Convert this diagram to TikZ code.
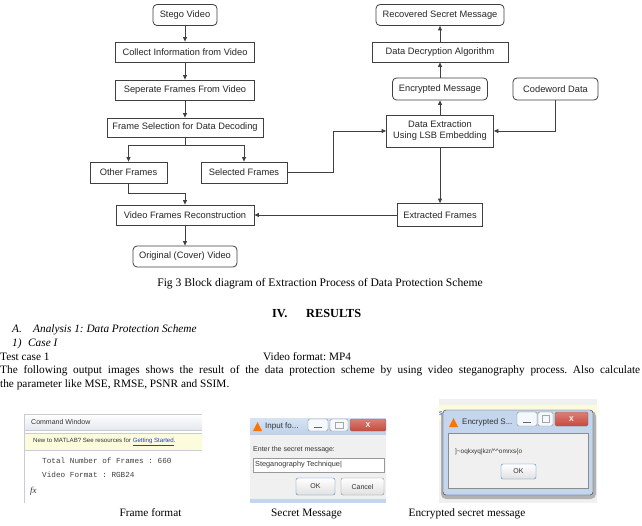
\documentclass[tikz,border=0pt]{standalone}
\usepackage{fontspec}
\setmainfont{Liberation Serif}
\setsansfont{Liberation Sans}
\setmonofont{Liberation Mono}
\usetikzlibrary{arrows.meta}
\frenchspacing
\definecolor{lineg}{HTML}{404040}
\definecolor{cwhead}{HTML}{E4E8EE}
\definecolor{cwline}{HTML}{C8CDD4}
\definecolor{cwyel}{HTML}{FCFBDC}
\definecolor{linkblue}{HTML}{2040C0}
\definecolor{titletop}{HTML}{D6E3F3}
\definecolor{titlebot}{HTML}{BFD2EA}
\definecolor{dlgbody}{HTML}{F0F0F0}
\definecolor{okblue}{HTML}{3C86C4}
\definecolor{closered}{HTML}{C9493C}
\definecolor{frameblue}{HTML}{C3D6EE}

\tikzset{
  blk/.style={draw=lineg, line width=0.8pt, text=black!85, inner sep=0pt, align=center,
    font=\sffamily\fontsize{9.3}{11}\selectfont},
  term/.style={blk, rounded corners=4pt},
  arr/.style={draw=lineg, line width=0.8pt, -{Triangle[length=4.5pt,width=4pt]}},
  body/.style={inner sep=0pt, anchor=base west, font=\fontsize{11.3}{14}\selectfont},
  shot/.style={inner sep=0pt, anchor=west, text=black!80, font=\sffamily\fontsize{7}{8}\selectfont},
  mono/.style={inner sep=0pt, anchor=west, text=black!75, font=\ttfamily\fontsize{7.7}{9}\selectfont},
  winbtn/.style={draw=black!45, fill=white!85!titlebot, rounded corners=1.5pt},
  okbtn/.style={draw=okblue, top color=white, bottom color=black!12, rounded corners=2pt},
}

\begin{document}
\begin{tikzpicture}[x=1pt,y=-1pt]
\useasboundingbox (0,0) rectangle (642,526);
\fill[white] (0,0) rectangle (642,526);
% Left column boxes
\node[term, minimum width=64pt, minimum height=21pt] (stego) at (185,15) {Stego Video};
\node[blk, minimum width=139pt, minimum height=20pt] (collect) at (185,52) {Collect Information from Video};
\node[blk, minimum width=139pt, minimum height=20pt] (separate) at (185,90) {Seperate Frames From Video};
\node[blk, minimum width=156pt, minimum height=19pt] (fsel) at (185,127.5) {Frame Selection for Data Decoding};
\node[blk, minimum width=77pt, minimum height=21pt] (other) at (128.5,172.5) {Other Frames};
\node[blk, minimum width=86pt, minimum height=21pt] (selected) at (244,172.5) {Selected Frames};
\node[blk, minimum width=138pt, minimum height=20pt] (recon) at (185,215) {Video Frames Reconstruction};
\node[term, minimum width=104pt, minimum height=21pt] (original) at (185,256.5) {Original (Cover) Video};
% Right column boxes
\node[term, minimum width=128pt, minimum height=21pt] (recovered) at (440,15) {Recovered Secret Message};
\node[blk, minimum width=136pt, minimum height=20pt] (decrypt) at (440,52) {Data Decryption Algorithm};
\node[term, minimum width=95pt, minimum height=22pt] (encmsg) at (440,89) {Encrypted Message};
\node[term, minimum width=85pt, minimum height=22pt] (codeword) at (555.5,89) {Codeword Data};
\node[blk, minimum width=107pt, minimum height=32pt] (extract) at (440,131) {Data Extraction\\Using LSB Embedding};
\node[blk, minimum width=85pt, minimum height=23pt] (extracted) at (440,215) {Extracted Frames};
% Connectors
\draw[arr] (stego) -- (collect);
\draw[arr] (collect) -- (separate);
\draw[arr] (separate) -- (fsel);
\draw[lineg, line width=0.8pt] (fsel.south) -- ++(0,8.5) coordinate (split);
\draw[arr] (split) -| (other.north);
\draw[arr] (split) -| (selected.north);
\draw[arr] (other.south) -- ++(0,10) -| (recon.north);
\draw[arr] (selected.east) -- ++(46,0) |- (extract.west);
\draw[arr] (codeword.south) |- (extract.east);
\draw[arr] (extract) -- (encmsg);
\draw[arr] (encmsg) -- (decrypt);
\draw[arr] (decrypt) -- (recovered);
\draw[arr] (extract) -- (extracted);
\draw[arr] (extracted) -- (recon);
\draw[arr] (recon) -- (original);
% Caption and text
\node[body, anchor=base, font=\fontsize{11.6}{14}\selectfont] (figcap) at (320,287) {Fig 3 Block diagram of Extraction Process of Data Protection Scheme};
\node[body, font=\bfseries\fontsize{12.3}{14}\selectfont] (secnum) at (272,317.5) {IV.};
\node[body, font=\bfseries\fontsize{12.3}{14}\selectfont] (sectitle) at (306,317.5) {RESULTS};
\node[body, font=\itshape\fontsize{11.3}{14}\selectfont] (suba) at (12,333) {A.};
\node[body, font=\itshape\fontsize{11.3}{14}\selectfont] (subatext) at (33,333) {Analysis 1: Data Protection Scheme};
\node[body, font=\itshape\fontsize{11.3}{14}\selectfont] (case) at (12,346.5) {1)};
\node[body, font=\itshape\fontsize{11.3}{14}\selectfont] (casetext) at (28,346.5) {Case I};
\node[body] (test) at (0,360) {Test case 1};
\node[body] (vformat) at (263,360) {Video format: MP4};
\node[body] (para1) at (0,373.5) {\makebox[640pt][s]{The following output images shows the result of the data protection scheme by using video steganography process. Also calculate}};
\node[body] (para2) at (0,387.5) {the parameter like MSE, RMSE, PSNR and SSIM.};
% Command Window screenshot
\fill[white] (24,414) rectangle (202,503);
\shade[top color=white, bottom color=cwhead] (24,414) rectangle (202,430);
\draw[cwline] (24,414) -- (202,414);
\draw[cwline] (24,430.5) -- (202,430.5);
\fill[cwyel] (24,433) rectangle (202,450);
\draw[cwline] (24,433) -- (202,433) (24,450) -- (202,450);
\draw[cwline] (24,414) -- (24,503);
\node[shot] (cwtitle) at (31,422) {Command Window};
\node[shot, font=\sffamily\fontsize{6.1}{7}\selectfont] (cwnew) at (33,441.5) {New to MATLAB? See resources for \textcolor{linkblue}{\underline{Getting Started}}.};
\node[mono] (cwline1) at (42,461) {Total Number of Frames : 660};
\node[mono] (cwline2) at (42,475) {Video Format : RGB24};
\node[shot, font=\rmfamily\itshape\fontsize{9}{10}\selectfont] (fx) at (30,491) {fx};
% Input dialog screenshot
\fill[dlgbody] (250,418) rectangle (386,503);
\shade[top color=titletop, bottom color=titlebot] (250,418) rectangle (386,434);
\fill[orange!90!red] (253,431) -- (257.5,422) -- (262,431) -- cycle;
\node[shot, font=\sffamily\fontsize{8}{9}\selectfont] (intitle) at (265,426) {Input fo...};
\draw[winbtn] (308,419) rectangle (328,431);
\draw[black!60, line width=1pt] (314,427.5) -- (322,427.5);
\draw[winbtn] (330,419) rectangle (348,431);
\draw[black!35] (335,422) rectangle (343,428);
\draw[draw=black!55, top color=closered!70!white, bottom color=closered, rounded corners=1.5pt] (350,419) rectangle (386,431);
\node[font=\sffamily\bfseries\fontsize{7}{8}\selectfont, text=white, inner sep=0pt] (inclose) at (368,425) {X};
\node[shot] (inlabel) at (253,450) {Enter the secret message:};
\draw[draw=black!40, fill=white] (253,458) rectangle (384,472);
\node[shot, font=\sffamily\fontsize{7.3}{8}\selectfont] (intext) at (255,465) {Steganography Technique|};
\draw[okbtn] (296,478) rectangle (335,495);
\node[shot, anchor=center] (inok) at (315.5,486.5) {OK};
\draw[draw=black!45, top color=white, bottom color=black!12, rounded corners=2pt] (341,478) rectangle (384,495);
\node[shot, anchor=center] (incancel) at (362.5,486.5) {Cancel};
\fill[frameblue] (250,499) rectangle (386,503);
% Encrypted message screenshot
\fill[black!6] (439,399) rectangle (597,503);
\fill[cwyel] (439,405) rectangle (597,421);
\node[shot, text=linkblue, font=\sffamily\fontsize{7}{8}\selectfont] (encbg) at (439,414) {s};
\fill[black!30, rounded corners=5pt] (441,411) rectangle (596,499);
\draw[draw=black!80, fill=frameblue, rounded corners=3pt] (443,410) rectangle (593,495);
\fill[orange!90!red] (449,427) -- (453.5,418) -- (458,427) -- cycle;
\node[shot, font=\sffamily\fontsize{8}{9}\selectfont] (enctitle) at (462,422) {Encrypted S...};
\draw[winbtn] (517,412) rectangle (537,426);
\draw[black!60, line width=1pt] (523,422) -- (531,422);
\draw[winbtn] (538,412) rectangle (553,426);
\draw[black!35] (542,415.5) rectangle (549,422.5);
\draw[draw=black!55, top color=closered!70!white, bottom color=closered, rounded corners=1.5pt] (555,412) rectangle (588,426);
\node[font=\sffamily\bfseries\fontsize{7}{8}\selectfont, text=white, inner sep=0pt] (encclose) at (571.5,419) {X};
\draw[draw=black!45, fill=dlgbody] (448,433) rectangle (588,488);
\node[shot, font=\sffamily\fontsize{6.4}{7}\selectfont] (enctext) at (455,452) {]\textasciitilde oqkxyq|kzr/\textasciicircum\textasciicircum omrxs\{o};
\draw[okbtn] (501,464) rectangle (536,479);
\node[shot, anchor=center] (encok) at (518.5,471.5) {OK};
% Screenshot captions
\node[body, anchor=base] (cap1) at (150.5,516) {Frame format};
\node[body, anchor=base] (cap2) at (306.5,516) {Secret Message};
\node[body, anchor=base] (cap3) at (467,516) {Encrypted secret message};
\end{tikzpicture}
\end{document}
